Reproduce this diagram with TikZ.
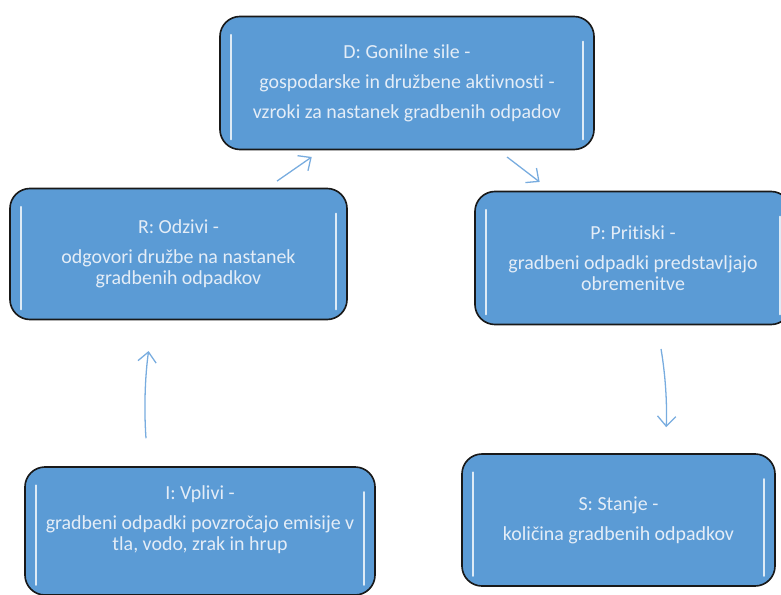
\documentclass[tikz,border=0pt]{standalone}
\usepackage{fontspec}
\setmainfont[Ligatures=NoCommon]{Carlito}
\usetikzlibrary{arrows.meta}
\definecolor{boxblue}{HTML}{5B9BD5}
\definecolor{boxtext}{HTML}{E4EDF7}
\definecolor{arrowblue}{HTML}{78ACDF}
\begin{document}
\begin{tikzpicture}[
  x=0.03cm, y=-0.03cm,
  every node/.style={font=\fontsize{17}{18}\selectfont},
  box/.style={
    draw=black!90,
    line width=1.4pt,
    fill=boxblue,
    text=boxtext,
    rounded corners=0.6cm,
    align=center,
    path picture={
      \draw[white, line width=1.6pt, opacity=0.8, line cap=round]
        ([xshift=0.33cm, yshift=-0.55cm]path picture bounding box.north west)
        -- ([xshift=0.33cm, yshift=0.3cm]path picture bounding box.south west);
      \draw[white, line width=1.6pt, opacity=0.8, line cap=round]
        ([xshift=-0.33cm, yshift=-0.75cm]path picture bounding box.north east)
        -- ([xshift=-0.33cm, yshift=0.3cm]path picture bounding box.south east);
    }
  },
  arrow/.style={-{Straight Barb[length=0.3cm, width=0.55cm]}, arrowblue, line width=1.1pt}
]
\useasboundingbox (0,0) rectangle (781,595);
\node[box, minimum width=11.22cm, minimum height=3.99cm] (driving) at (407,83)
  {D: Gonilne sile -\\[7.5pt]gospodarske in družbene aktivnosti -\\[7.5pt]vzroki za nastanek gradbenih odpadov};
\node[box, minimum width=10.11cm, minimum height=3.93cm] (response) at (178.5,254)
  {R: Odzivi -\\[7.5pt]odgovori družbe na nastanek\\gradbenih odpadkov};
\node[box, minimum width=9.48cm, minimum height=3.99cm] (pressure) at (633,258)
  {P: Pritiski -\\[7.5pt]gradbeni odpadki predstavljajo\\obremenitve};
\node[box, minimum width=10.5cm, minimum height=3.84cm, text depth=0.75cm] (impact) at (200,531)
  {I: Vplivi -\\[7.5pt]gradbeni odpadki povzročajo emisije v\\tla, vodo, zrak in hrup};
\node[box, minimum width=9.39cm, minimum height=3.96cm] (state) at (618.5,520)
  {S: Stanje -\\[7.5pt]količina gradbenih odpadkov};
\draw[arrow, shorten <=0.35cm, shorten >=0.35cm] ([xshift=2.67cm]response.north) -- ([xshift=-2.57cm]driving.south);
\draw[arrow, shorten <=0.33cm, shorten >=0.43cm] ([xshift=2.74cm]driving.south) -- ([xshift=-2.46cm]pressure.north);
\draw[arrow, shorten <=0.72cm, shorten >=0.78cm] ([xshift=0.72cm]pressure.south) to[bend left=6] ([xshift=1.4cm]state.north);
\draw[arrow, shorten <=0.84cm, shorten >=0.93cm] ([xshift=-1.56cm]impact.north) to[bend left=6] ([xshift=-0.77cm]response.south);
\end{tikzpicture}
\end{document}
